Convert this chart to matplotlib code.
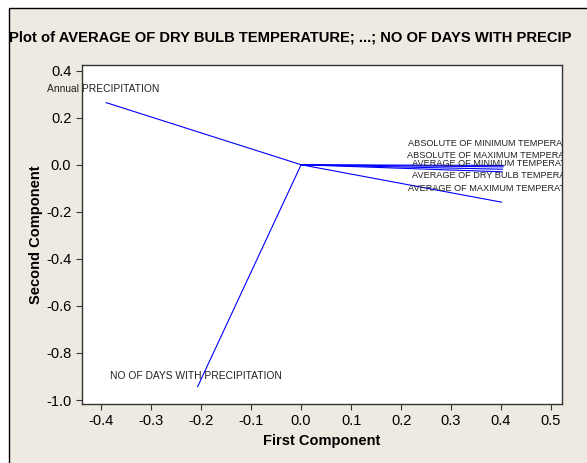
import matplotlib
matplotlib.use("Agg")
import matplotlib.pyplot as plt
from matplotlib.patches import Rectangle

# loadings of the first two components
variables = [
    "AVERAGE OF DRY BULB TEMPERATURE",
    "AVERAGE OF MAXIMUM TEMPERATURE",
    "AVERAGE OF MINIMUM TEMPERATURE",
    "ABSOLUTE OF MAXIMUM TEMPERATURE",
    "ABSOLUTE OF MINIMUM TEMPERATURE",
    "Annual PRECIPITATION",
    "NO OF DAYS WITH PRECIPITATION",
]
first_comp = [0.402, 0.401, 0.403, 0.404, 0.404, -0.390, -0.207]
second_comp = [-0.030, -0.159, -0.019, -0.009, -0.003, 0.264, -0.943]

# where minitab put the labels
label_x = [0.221, 0.213, 0.221, 0.211, 0.213, -0.509, -0.382]
label_y = [-0.046, -0.102, 0.004, 0.040, 0.089, 0.320, -0.897]

x_ticks = [-0.4, -0.3, -0.2, -0.1, 0.0, 0.1, 0.2, 0.3, 0.4, 0.5]
y_ticks = [0.4, 0.2, 0.0, -0.2, -0.4, -0.6, -0.8, -1.0]

plt.rcParams["font.family"] = ["Liberation Sans", "DejaVu Sans"]

beige = "#EEEAE1"
fig = plt.figure(figsize=(5.87, 4.63), dpi=100, facecolor="white")
# window frame of the screenshot
fig.patches.append(Rectangle((9 / 587, -0.1), 1.2, 1.1 - 8 / 463, transform=fig.transFigure,
                             facecolor=beige, edgecolor="black", linewidth=1, zorder=-1))

ax = fig.add_axes([81.7 / 587, 1 - 404 / 463, (562 - 81.7) / 587, (404 - 65) / 463])
ax.set_facecolor("white")

for x, y in zip(first_comp, second_comp):
    ax.plot([0, x], [0, y], color="#0000FF", linewidth=0.8)

for name, lx, ly in zip(variables, label_x, label_y):
    outside = lx < -0.44
    size = 6.6 if lx > 0 else 7.4
    ax.text(lx, ly, name, fontsize=size, color="#222222", va="center", ha="left",
            clip_on=not outside, zorder=2)

ax.set_xlim(-0.439, 0.522)
ax.set_ylim(-1.017, 0.424)
ax.set_xticks(x_ticks)
ax.set_xticklabels([f"{t:.1f}" for t in x_ticks])
ax.set_yticks(y_ticks)
ax.set_yticklabels([f"{t:.1f}" for t in y_ticks])
ax.tick_params(direction="out", length=4, width=0.8, labelsize=10.5, color="#333333")
for sp in ax.spines.values():
    sp.set_linewidth(1.0)
    sp.set_color("#333333")

ax.set_xlabel("First Component", fontsize=10.5, fontweight="bold", labelpad=4)
ax.set_ylabel("Second Component", fontsize=10.5, fontweight="bold", labelpad=2)

fig.text(9 / 587, 1 - 38 / 463, "Plot of AVERAGE OF DRY BULB TEMPERATURE; ...; NO OF DAYS WITH PRECIP",
         fontsize=10.6, fontweight="bold", ha="left", va="center")

fig.savefig("out.png", dpi=100, facecolor=fig.get_facecolor())
